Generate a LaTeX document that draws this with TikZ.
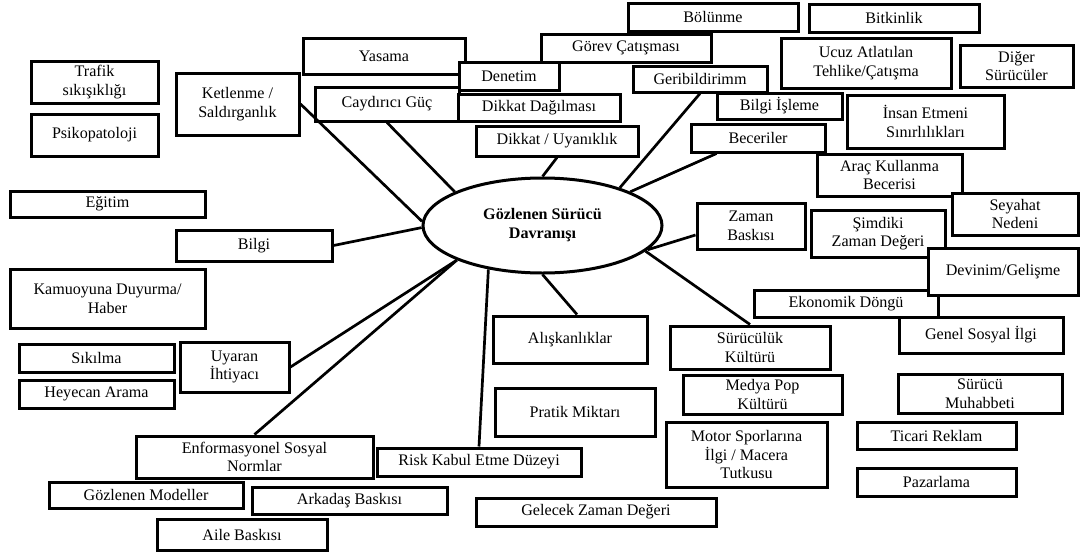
\documentclass[tikz,border=0pt]{standalone}
\usepackage{fontspec}
\setmainfont{Liberation Serif}
\usetikzlibrary{shapes.geometric,calc}

% place a framed box by its corner coordinates: name, x1, y1, x2, y2, text
\newcommand\placebox[6]{%
  \node[bx, minimum width={#4-#2}, minimum height={#5-#3}] (#1)
    at ({(#2+#4)/2},{(#3+#5)/2}) {#6};}

\begin{document}
\begin{tikzpicture}[x=1pt, y=-1pt,
  bx/.style={draw, fill=white, line width=3pt, inner sep=1pt, align=center,
    font=\fontsize{16.1}{18.7}\selectfont},
  hub/.style={ellipse, draw, fill=white, line width=3pt, inner sep=0pt,
    minimum width=239, minimum height=95, align=center,
    font=\fontsize{16.1}{19}\selectfont\bfseries},
  ln/.style={line width=2.7pt}]
\useasboundingbox (0,0) rectangle (1081,554);
\fill[white] (0,0) rectangle (1081,554);

% left column
\placebox{trafik}{31}{61}{158}{103}{Trafik\\sıkışıklığı}
\placebox{psiko}{31}{114}{158}{156}{Psikopatoloji}
\placebox{ket}{176}{73}{299}{135}{Ketlenme /\\Saldırganlık}
\placebox{egi}{10}{191}{205}{217}{Eğitim}
\placebox{bilgi}{176}{230}{332}{261}{Bilgi}
\placebox{kam}{10}{269}{205}{328}{Kamuoyuna Duyurma/\\Haber}
\placebox{sik}{19}{344}{174}{372}{Sıkılma}
\placebox{uya}{180}{342}{289}{392}{Uyaran\\İhtiyacı}
\placebox{hey}{19}{380}{174}{408}{Heyecan Arama}
\placebox{enf}{136}{436}{373}{478}{Enformasyonel Sosyal\\Normlar}
\placebox{gozm}{49}{482}{243}{508}{Gözlenen Modeller}
\placebox{ark}{252}{487}{447}{514}{Arkadaş Baskısı}
\placebox{aile}{157}{519}{327}{550}{Aile Baskısı}

% top row
\placebox{yas}{303}{38}{465}{74}{Yasama}
\placebox{cay}{315}{87}{459}{121}{Caydırıcı Güç}
\placebox{den}{459}{62}{559}{90}{Denetim}
\placebox{dda}{458}{94}{620}{121}{Dikkat Dağılması}
\placebox{dik}{476}{126}{638}{156}{Dikkat / Uyanıklık}
\placebox{gor}{541}{34}{711}{62}{Görev Çatışması}
\placebox{bol}{628}{3}{798}{31}{Bölünme}
\placebox{bit}{809}{4}{979}{32}{Bitkinlik}
\placebox{ucuz}{781}{38}{951}{88}{Ucuz Atlatılan\\Tehlike/Çatışma}
\placebox{diger}{960}{45}{1073}{87}{Diğer\\Sürücüler}
\placebox{geri}{633}{66}{767}{92}{Geribildirimm}
\placebox{bis}{717}{93}{842}{119}{Bilgi İşleme}
\placebox{bec}{691}{124}{825}{152}{Beceriler}
\placebox{insan}{847}{95}{1004}{148}{İnsan Etmeni\\Sınırlılıkları}

% right side
\placebox{arac}{817}{154}{962}{196}{Araç Kullanma\\Becerisi}
\placebox{sey}{952}{193}{1078}{235}{Seyahat\\Nedeni}
\placebox{zam}{697}{203}{805}{249}{Zaman\\Baskısı}
\placebox{sim}{811}{210}{945}{257}{Şimdiki\\Zaman Değeri}
\placebox{eko}{754}{290}{938}{317}{Ekonomik Döngü}
\placebox{dev}{928}{248}{1078}{295}{Devinim/Gelişme}
\placebox{gen}{899}{317}{1063}{353}{Genel Sosyal İlgi}
\placebox{muh}{898}{374}{1062}{413}{Sürücü\\Muhabbeti}
\placebox{tic}{857}{422}{1016}{449}{Ticari Reklam}
\placebox{paz}{857}{468}{1016}{496}{Pazarlama}

% bottom middle
\placebox{ali}{493}{316}{647}{363}{Alışkanlıklar}
\placebox{pra}{495}{388}{655}{436}{Pratik Miktarı}
\placebox{risk}{377}{448}{581}{476}{Risk Kabul Etme Düzeyi}
\placebox{gel}{476}{498}{716}{526}{Gelecek Zaman Değeri}
\placebox{surk}{670}{326}{830}{369}{Sürücülük\\Kültürü}
\placebox{med}{683}{375}{842}{414}{Medya Pop\\Kültürü}
\placebox{mot}{666}{422}{827}{487}{Motor Sporlarına\\İlgi / Macera\\Tutkusu}

% central behaviour node
\node[hub] (ell) at (542.5,225.5) {Gözlenen Sürücü\\Davranışı};

% spokes
\draw[ln] (ket.east) -- (ell.178.5);
\draw[ln] (bilgi.east) -- (ell.181.5);
\draw[ln] (cay.south) -- (ell.159);
\draw[ln] (dik.south) -- (ell.north);
\draw[ln] (geri.south) -- (ell.26);
\draw[ln] ([xshift=27pt]bec.south west) -- (ell.21);
\draw[ln] ([yshift=-9pt]zam.west) -- (ell.-13);
\draw[ln] (surk.north) -- (ell.-14.5);
\draw[ln] ([xshift=7pt]ali.north) -- (ell.south);
\draw[ln] (risk.north) -- (ell.219);
\draw[ln] (enf.north) -- (ell.202);
\draw[ln] (uya.east) -- (ell.202);
\end{tikzpicture}
\end{document}
